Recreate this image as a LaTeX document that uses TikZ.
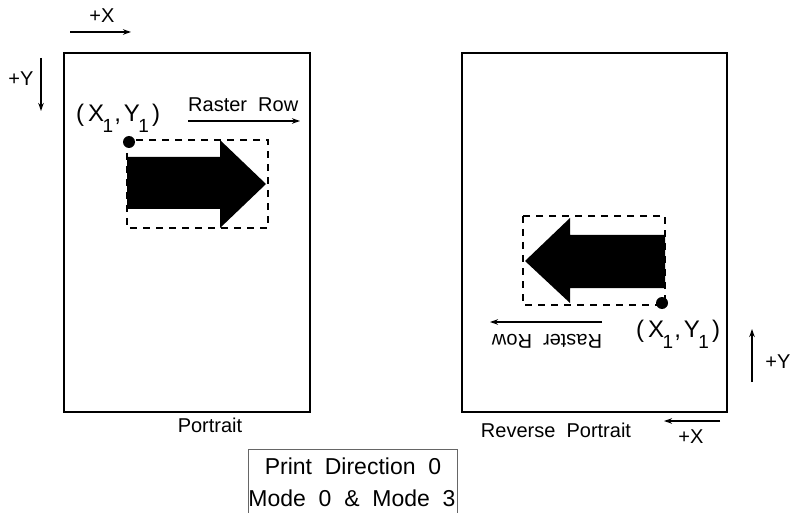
\documentclass[tikz,border=0pt]{standalone}
\usepackage{fontspec}
\setmainfont{Liberation Sans}
\usetikzlibrary{arrows.meta}
\newcommand{\sbx}{\raisebox{-11pt}{\fontsize{19}{19}\selectfont 1}}
\newcommand{\xyone}{(\kern4pt X\kern-1.5pt\sbx\kern1pt,\kern3pt Y\kern-1.5pt\sbx\kern3pt)}
\begin{document}
\begin{tikzpicture}[x=1pt,y=-1pt,
  page/.style={draw,line width=2.6pt},
  dbox/.style={draw,line width=1.4pt,dash pattern=on 7pt off 6pt},
  ax/.style={-{Stealth[length=8pt,width=5.5pt]},line width=1.6pt},
  lbl/.style={inner sep=0pt,font=\fontsize{20}{22}\selectfont},
  pt/.style={inner sep=0pt,font=\fontsize{24}{26}\selectfont},
  big/.style={inner sep=0pt,font=\fontsize{23}{26}\selectfont}]
\useasboundingbox (0,0) rectangle (798,513);
% pages
\draw[page] (64,53) rectangle (310,412);
\draw[page] (462,53) rectangle (727,412);
% left axes
\coordinate (lxs) at (70,32); \coordinate (lxe) at (131,32);
\draw[ax] (lxs) -- (lxe);
\node[lbl] (lx) at (102,16) {+X};
\coordinate (lys) at (41,58); \coordinate (lye) at (41,111);
\draw[ax] (lys) -- (lye);
\node[lbl] (ly) at (21,79) {+Y};
% left arrow
\draw[dbox] (127,140) rectangle (268,228);
\fill (127,157) -- (220,157) -- (220,140) -- (266,184) -- (220,228) -- (220,209) -- (127,209) -- cycle;
\fill (129,142) circle (6pt);
\node[pt,anchor=base west] (lp) at (76,122) {\xyone};
\node[lbl,anchor=base west] (lrr) at (188,112) {Raster\ \ Row};
\coordinate (lrs) at (188,121); \coordinate (lre) at (300,121);
\draw[ax,line width=1.4pt] (lrs) -- (lre);
% right arrow
\draw[dbox] (523,216) rectangle (665,305);
\fill (665,235) -- (570,235) -- (570,218) -- (525,261) -- (570,303) -- (570,288) -- (665,288) -- cycle;
\fill (662,303) circle (6pt);
\node[pt,anchor=base west] (rp) at (636,337) {\xyone};
\node[lbl,rotate=180] (rrr) at (547,341) {Raster\ \ Row};
\coordinate (rrs) at (602,322); \coordinate (rre) at (490,322);
\draw[ax,line width=1.4pt] (rrs) -- (rre);
% right axes
\coordinate (rys) at (752,382); \coordinate (rye) at (752,329);
\draw[ax] (rys) -- (rye);
\node[lbl] (ry) at (778,362) {+Y};
\coordinate (rxs) at (720,421); \coordinate (rxe) at (664,421);
\draw[ax] (rxs) -- (rxe);
\node[lbl] (rx) at (691,437) {+X};
% captions
\node[lbl] (cp) at (210,425) {Portrait};
\node[lbl] (crp) at (556,430) {Reverse\ \ Portrait};
% bottom box
\draw[line width=1pt,black!60] (248,513) -- (248,449) -- (457,449) -- (457,513);
\node[big] (t1) at (353,466) {Print\ \ Direction\ \ 0};
\node[big] (t2) at (352,498) {Mode\ \ 0\ \ \&\ \ Mode\ \ 3};
\end{tikzpicture}
\end{document}
